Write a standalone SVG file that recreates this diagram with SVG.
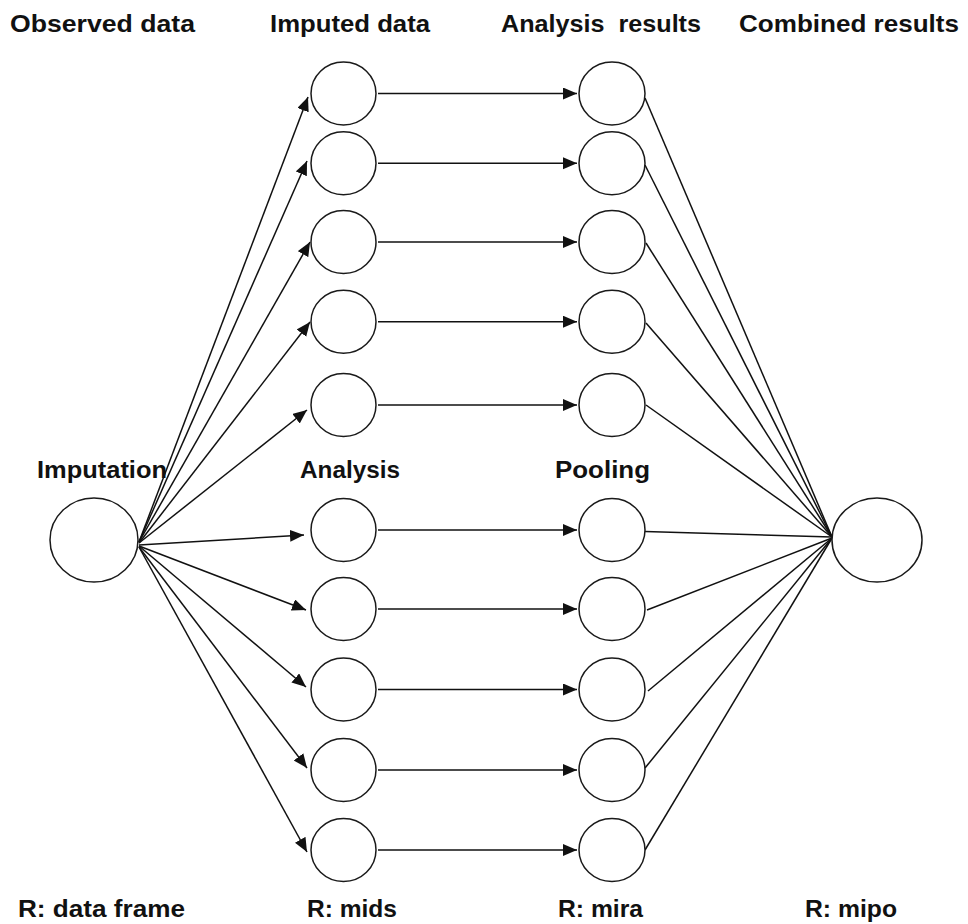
<svg xmlns="http://www.w3.org/2000/svg" width="968" height="924" viewBox="0 0 968 924">
  <style>
    .node { fill: #fff; stroke: #1a1a1a; stroke-width: 1.5; }
    .edge { stroke: #111; stroke-width: 1.5; fill: none; }
    .arrow { marker-end: url(#head); }
    .label { font-family: "Liberation Sans", Arial, sans-serif; font-weight: bold; font-size: 24px; fill: #111; }
  </style>
  <defs>
    <marker id="head" markerUnits="userSpaceOnUse" markerWidth="15" markerHeight="13" refX="14" refY="6" orient="auto">
      <path d="M0,0 L14,6 L0,12 z" fill="#111"/>
    </marker>
  </defs>
  <rect width="968" height="924" fill="#fff"/>

  <!-- column headings -->
  <g id="headings">
    <text class="label" x="10" y="32" textLength="185" lengthAdjust="spacingAndGlyphs">Observed data</text>
    <text class="label" x="270" y="32" textLength="160" lengthAdjust="spacingAndGlyphs">Imputed data</text>
    <text class="label" x="501" y="32" textLength="200" lengthAdjust="spacingAndGlyphs" xml:space="preserve">Analysis  results</text>
    <text class="label" x="739" y="32" textLength="220" lengthAdjust="spacingAndGlyphs">Combined results</text>
  </g>

  <!-- step names -->
  <g id="steps">
    <text class="label" x="37" y="478" textLength="130" lengthAdjust="spacingAndGlyphs">Imputation</text>
    <text class="label" x="300" y="478" textLength="100" lengthAdjust="spacingAndGlyphs">Analysis</text>
    <text class="label" x="555" y="478" textLength="95" lengthAdjust="spacingAndGlyphs">Pooling</text>
  </g>

  <!-- R classes -->
  <g id="classes">
    <text class="label" x="18" y="917" textLength="167" lengthAdjust="spacingAndGlyphs">R: data frame</text>
    <text class="label" x="307" y="917" textLength="90" lengthAdjust="spacingAndGlyphs">R: mids</text>
    <text class="label" x="558" y="917" textLength="85" lengthAdjust="spacingAndGlyphs">R: mira</text>
    <text class="label" x="805" y="917" textLength="92" lengthAdjust="spacingAndGlyphs">R: mipo</text>
  </g>

  <!-- connectors -->
  <g id="connectors">
    <!-- imputation fan -->
    <line class="edge arrow" x1="139" y1="542" x2="308" y2="97"/>
    <line class="edge arrow" x1="139" y1="542" x2="307" y2="161"/>
    <line class="edge arrow" x1="139" y1="542" x2="310" y2="242"/>
    <line class="edge arrow" x1="139" y1="543" x2="310" y2="322"/>
    <line class="edge arrow" x1="139" y1="543" x2="307" y2="410"/>
    <line class="edge arrow" x1="139" y1="545" x2="304" y2="535"/>
    <line class="edge arrow" x1="139" y1="546" x2="306" y2="610"/>
    <line class="edge arrow" x1="139" y1="546" x2="306" y2="687"/>
    <line class="edge arrow" x1="139" y1="547" x2="307" y2="768"/>
    <line class="edge arrow" x1="139" y1="547" x2="307" y2="852"/>
    <!-- analysis -->
    <line class="edge arrow" x1="378" y1="93.5" x2="577" y2="93.5"/>
    <line class="edge arrow" x1="378" y1="163.3" x2="577" y2="163.3"/>
    <line class="edge arrow" x1="378" y1="242" x2="577" y2="242"/>
    <line class="edge arrow" x1="378" y1="321.7" x2="577" y2="321.7"/>
    <line class="edge arrow" x1="378" y1="405" x2="577" y2="405"/>
    <line class="edge arrow" x1="378" y1="530" x2="577" y2="530"/>
    <line class="edge arrow" x1="378" y1="609" x2="577" y2="609"/>
    <line class="edge arrow" x1="378" y1="689.5" x2="577" y2="689.5"/>
    <line class="edge arrow" x1="378" y1="770" x2="577" y2="770"/>
    <line class="edge arrow" x1="378" y1="850" x2="577" y2="850"/>
    <!-- pooling -->
    <line class="edge" x1="645" y1="98" x2="832" y2="537"/>
    <line class="edge" x1="645" y1="165" x2="832" y2="537"/>
    <line class="edge" x1="646" y1="243" x2="832" y2="537"/>
    <line class="edge" x1="646" y1="323" x2="832" y2="537"/>
    <line class="edge" x1="646" y1="405" x2="832" y2="537"/>
    <line class="edge" x1="645" y1="531.5" x2="832" y2="537"/>
    <line class="edge" x1="647" y1="610" x2="832" y2="538"/>
    <line class="edge" x1="648" y1="691" x2="832" y2="538"/>
    <line class="edge" x1="645" y1="768" x2="832" y2="538"/>
    <line class="edge" x1="645" y1="850" x2="832" y2="538"/>
  </g>

  <!-- observed data -->
  <g id="observed">
    <ellipse class="node" cx="94" cy="540" rx="44" ry="42"/>
  </g>

  <!-- imputed data sets -->
  <g id="imputed">
    <ellipse class="node" cx="343.5" cy="93.5" rx="32.5" ry="31.5"/>
    <ellipse class="node" cx="343.5" cy="163.3" rx="32.5" ry="31.5"/>
    <ellipse class="node" cx="343.5" cy="242" rx="32.5" ry="31.5"/>
    <ellipse class="node" cx="343.5" cy="321.7" rx="32.5" ry="31.5"/>
    <ellipse class="node" cx="343.5" cy="405" rx="32.5" ry="31.5"/>
    <ellipse class="node" cx="343.5" cy="530" rx="32.5" ry="31.5"/>
    <ellipse class="node" cx="343.5" cy="609" rx="32.5" ry="31.5"/>
    <ellipse class="node" cx="343.5" cy="689.5" rx="32.5" ry="31.5"/>
    <ellipse class="node" cx="343.5" cy="770" rx="32.5" ry="31.5"/>
    <ellipse class="node" cx="343.5" cy="850" rx="32.5" ry="31.5"/>
  </g>

  <!-- analysis results -->
  <g id="results">
    <ellipse class="node" cx="612" cy="93.5" rx="33" ry="31.5"/>
    <ellipse class="node" cx="612" cy="163.3" rx="33" ry="31.5"/>
    <ellipse class="node" cx="612" cy="242" rx="33" ry="31.5"/>
    <ellipse class="node" cx="612" cy="321.7" rx="33" ry="31.5"/>
    <ellipse class="node" cx="612" cy="405" rx="33" ry="31.5"/>
    <ellipse class="node" cx="612" cy="530" rx="33" ry="31.5"/>
    <ellipse class="node" cx="612" cy="609" rx="33" ry="31.5"/>
    <ellipse class="node" cx="612" cy="689.5" rx="33" ry="31.5"/>
    <ellipse class="node" cx="612" cy="770" rx="33" ry="31.5"/>
    <ellipse class="node" cx="612" cy="850" rx="33" ry="31.5"/>
  </g>

  <!-- combined results -->
  <g id="combined">
    <ellipse class="node" cx="877" cy="540" rx="45" ry="42"/>
  </g>
</svg>
